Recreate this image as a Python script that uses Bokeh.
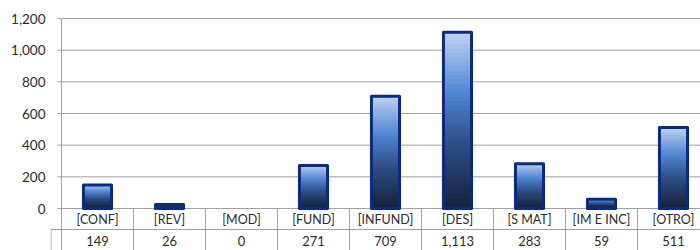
from bokeh.plotting import figure
from bokeh.embed import file_html
from bokeh.resources import INLINE
from bokeh.models import FixedTicker, NumeralTickFormatter
from bokeh.core.properties import value

categories = ["[CONF]", "[REV]", "[MOD]", "[FUND]", "[INFUND]", "[DES]", "[S MAT]", "[IM E INC]", "[OTRO]"]
counts = [149, 26, 0, 271, 709, 1113, 283, 59, 511]
y_ticks = [0, 200, 400, 600, 800, 1000, 1200]

FONT = "Lato"
TXT = "#2b2b2b"
GRID = "#a0a0a0"

px_per_unit = 190.0 / 1200.0
upp = 1.0 / px_per_unit
cat_px = 72.0

y_start = -42 * upp
y_end = 1200 + 18 * upp
x_start = -11.0 / cat_px
x_end = (700 - 61) / cat_px

p = figure(width=700, height=250, output_backend="svg", toolbar_location=None,
           x_range=(x_start, x_end), y_range=(y_start, y_end),
           min_border_left=50, min_border_right=0, min_border_top=0, min_border_bottom=0)
p.outline_line_color = None
p.xaxis.visible = False
p.xgrid.visible = False
p.ygrid.visible = False

yax = p.yaxis[0]
yax.ticker = FixedTicker(ticks=y_ticks)
yax.formatter = NumeralTickFormatter(format="0,0")
yax.axis_line_color = None
yax.major_tick_line_color = None
yax.minor_tick_line_color = None
yax.major_tick_out = 0
yax.major_tick_in = 0
yax.major_label_standoff = 5
yax.major_label_text_font = FONT
yax.major_label_text_font_size = "13.5px"
yax.major_label_text_color = TXT

n = len(categories)
centers = [i + 0.5 for i in range(n)]

p.segment(x0=[0] * len(y_ticks), x1=[n] * len(y_ticks), y0=y_ticks, y1=y_ticks,
          line_color=GRID, line_width=1)
p.segment(x0=[-4 / cat_px] * len(y_ticks), x1=[0] * len(y_ticks), y0=y_ticks, y1=y_ticks,
          line_color=GRID, line_width=1)
p.segment(x0=[0], x1=[0], y0=[y_start], y1=[1200], line_color=GRID, line_width=1)

stops = [(0.0, (196, 214, 240)), (0.35, (80, 134, 212)), (0.65, (44, 76, 132)), (1.0, (22, 35, 60))]

def grad(t):
    for (t0, c0), (t1, c1) in zip(stops[:-1], stops[1:]):
        if t <= t1:
            f = (t - t0) / (t1 - t0)
            return "#%02x%02x%02x" % tuple(int(round(a + (b - a) * f)) for a, b in zip(c0, c1))
    return "#%02x%02x%02x" % stops[-1][1]

N = 40
bw = 0.39
L, R, B, T, C = [], [], [], [], []
for xc, v in zip(centers, counts):
    if v <= 0:
        continue
    for i in range(N):
        L.append(xc - bw / 2)
        R.append(xc + bw / 2)
        T.append(min(v, v * (1 - i / N) + 1.5 * upp))
        B.append(v * (1 - (i + 1) / N))
        C.append(grad((i + 0.5) / N))
p.quad(left=L, right=R, bottom=B, top=T, fill_color=C, line_color=None)

pos_x = [c for c, v in zip(centers, counts) if v > 0]
pos_v = [v for v in counts if v > 0]
p.vbar(x=pos_x, top=pos_v, bottom=0, width=bw, fill_color=None,
       line_color="#0d2b7e", line_width=3, line_join="round")

row_line_y = -21 * upp
row1_y = -11 * upp
row2_y = -32.5 * upp
p.segment(x0=[x_start], x1=[n], y0=[row_line_y], y1=[row_line_y], line_color=GRID, line_width=1)
p.segment(x0=list(range(1, n + 1)), x1=list(range(1, n + 1)), y0=[0] * n, y1=[y_start] * n,
          line_color=GRID, line_width=1)
p.segment(x0=[x_start + 0.5 / cat_px], x1=[x_start + 0.5 / cat_px], y0=[row_line_y], y1=[y_start],
          line_color=GRID, line_width=1)

p.text(x=centers, y=[row1_y] * n, text=categories, text_align="center", text_baseline="middle",
       text_font=value(FONT), text_font_size="12.5px", text_color=TXT)
p.text(x=centers, y=[row2_y] * n, text=["{:,}".format(v) for v in counts], text_align="center",
       text_baseline="middle", text_font=value(FONT), text_font_size="13px", text_color=TXT)

open("out.html", "w").write(file_html(p, INLINE))
